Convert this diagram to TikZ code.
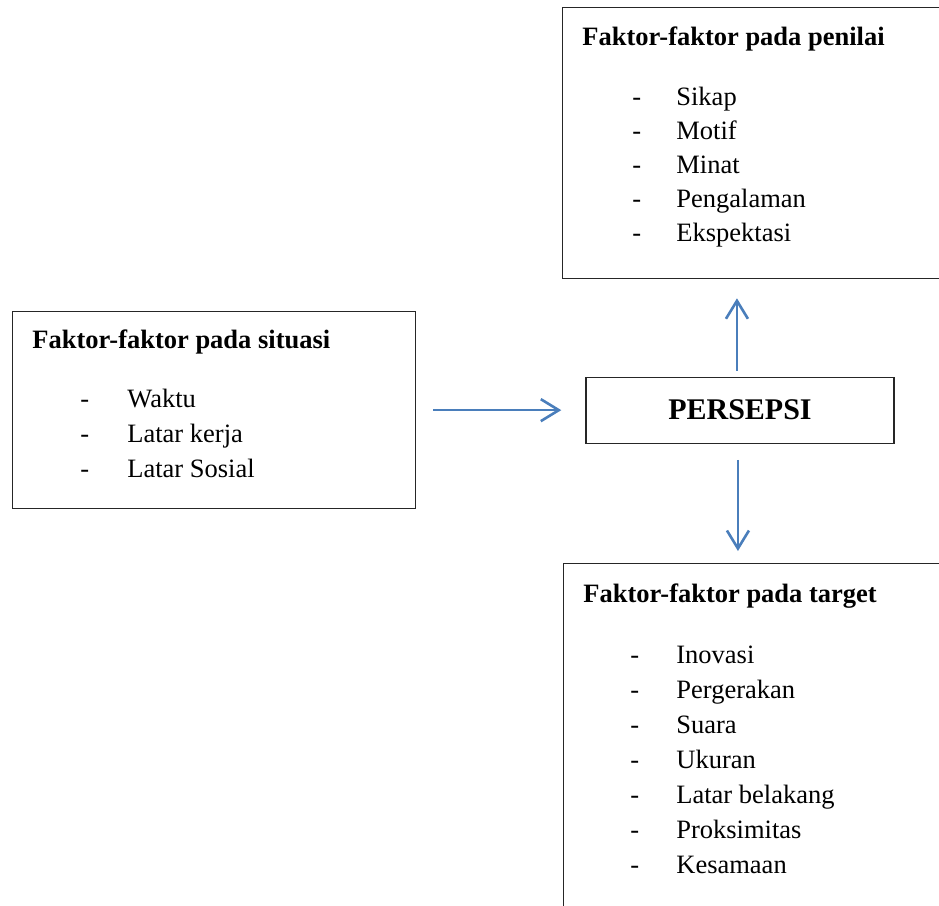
\documentclass[tikz,border=0pt]{standalone}
\usepackage{fontspec}
\setmainfont{Liberation Serif}
\usetikzlibrary{positioning,calc,arrows.meta}
\definecolor{linkblue}{HTML}{4A7EBB}

\begin{document}
\begin{tikzpicture}[x=0.5pt,y=-0.5pt,font=\fontsize{13.25}{16}\selectfont,
	factorbox/.style={rectangle,draw=black!85,line width=0.65pt,inner sep=0pt,anchor=north west},
	boxtitle/.style={anchor=base west,inner sep=0pt,font=\fontsize{13.25}{16}\selectfont\bfseries},
	listitem/.style={anchor=base west,inner sep=0pt},
	link/.style={draw=linkblue,line width=1.3pt,-{Straight Barb[length=9pt,width=11pt]}}]
		\useasboundingbox (0,0) rectangle (939,906);
		\clip (0,0) rectangle (939,906);
		\node[factorbox,minimum width=201.5pt,minimum height=98.5pt] (situasi) at (12,311) {};
		\node[factorbox,minimum width=154pt,minimum height=33pt,right=84.5pt of situasi] (persepsi) {\fontsize{15}{18}\selectfont\bfseries PERSEPSI};
		\node[factorbox,minimum width=199pt,minimum height=135.5pt] (penilai) at (562,7) {};
		\node[factorbox,minimum width=199pt,minimum height=193.5pt] (target) at (563,563) {};
		% box contents
		\node[boxtitle] (situasi-title) at ($(situasi.north west)+(20,37)$) {Faktor-faktor pada situasi};
		\foreach \name [count=\i] in {Waktu,Latar kerja,Latar Sosial}
			\node[listitem] (situasi-\i) at ($(situasi.north west)+({68},{96+35*(\i-1)})$) {\makebox[23.5pt][l]{-}\name};
		\node[boxtitle] (penilai-title) at ($(penilai.north west)+(20,38)$) {Faktor-faktor pada penilai};
		\foreach \name [count=\i] in {Sikap,Motif,Minat,Pengalaman,Ekspektasi}
			\node[listitem] (penilai-\i) at ($(penilai.north west)+({70},{98+34*(\i-1)})$) {\makebox[22pt][l]{-}\name};
		\node[boxtitle] (target-title) at ($(target.north west)+(20,39)$) {Faktor-faktor pada target};
		\foreach \name [count=\i] in {Inovasi,Pergerakan,Suara,Ukuran,Latar belakang,Proksimitas,Kesamaan}
			\node[listitem] (target-\i) at ($(target.north west)+({67},{100+35*(\i-1)})$) {\makebox[23pt][l]{-}\name};
		% arrows
		\draw[link,shorten <=8.5pt,shorten >=12pt] (situasi.east) -- (persepsi.west);
		\draw[link,shorten <=3pt,shorten >=9.5pt] ($(persepsi.north)+(-3,0)$) -- ($(persepsi.north |- penilai.south)+(-3,0)$);
		\draw[link,shorten <=8pt,shorten >=6pt] ($(persepsi.south)+(-2,0)$) -- ($(persepsi.south |- target.north)+(-2,0)$);
	\end{tikzpicture}
\end{document}
